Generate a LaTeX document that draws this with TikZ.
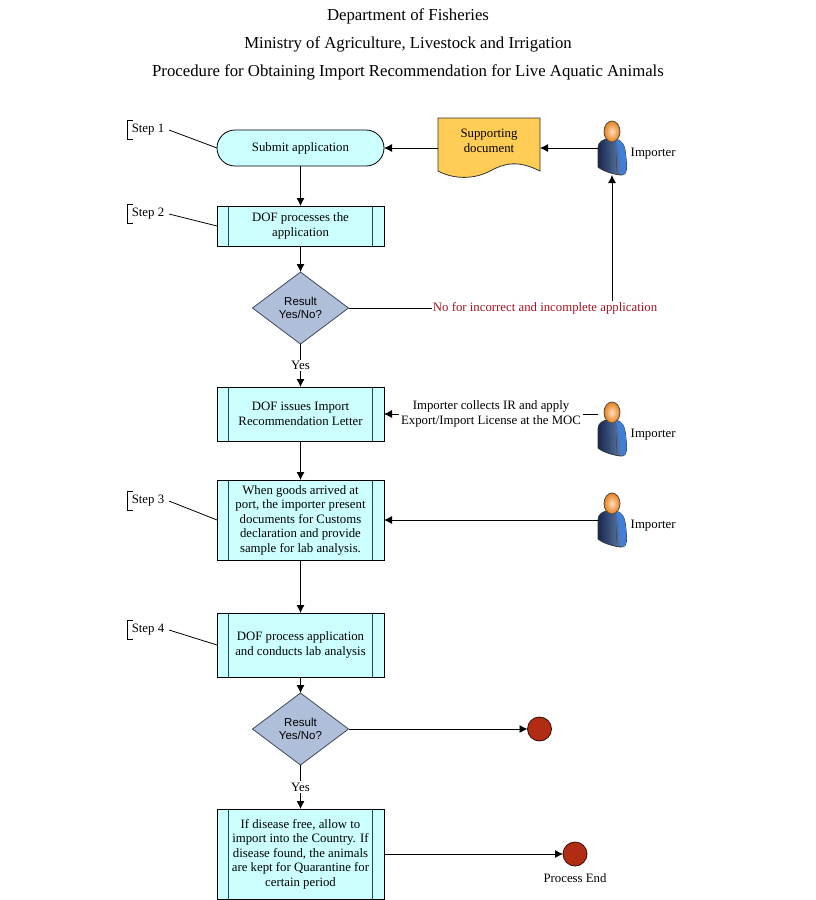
\documentclass[tikz,border=0pt]{standalone}
\usepackage{fontspec}
\setmainfont{Liberation Serif}
\setsansfont{Liberation Sans}
\usetikzlibrary{arrows.meta, positioning, shapes.geometric}
\definecolor{boxfill}{HTML}{CCFFFF}
\definecolor{boxline}{HTML}{23474D}
\definecolor{decfill}{HTML}{AFBFD9}
\definecolor{decline}{HTML}{3F4A5C}
\definecolor{docfill}{HTML}{FFCC55}
\definecolor{endfill}{HTML}{B22C14}
\definecolor{nored}{HTML}{A01420}
\definecolor{bodydark}{HTML}{16264F}
\definecolor{bodymid}{HTML}{6F93C4}
\definecolor{bodyarm}{HTML}{3F7FD8}

\begin{document}
\begin{tikzpicture}[
    x=1pt, y=-1pt, >={Latex[length=8pt,width=8pt]},
    line width=0.8pt,
    txt/.style={font=\fontsize{12.8}{14.5}\selectfont, align=center},
    titletxt/.style={font=\fontsize{16.75}{19}\selectfont},
    terminal/.style={draw, fill=boxfill, rounded corners=18pt, minimum width=167pt, minimum height=36pt, outer sep=0pt, txt},
    subproc/.style={draw, fill=boxfill, minimum width=167pt, minimum height=#1, outer sep=0pt, txt,
        path picture={
            \draw[boxline] ([xshift=11.5pt]path picture bounding box.north west) -- ([xshift=11.5pt]path picture bounding box.south west);
            \draw[boxline] ([xshift=-11.5pt]path picture bounding box.north east) -- ([xshift=-11.5pt]path picture bounding box.south east);
        }},
    decision/.style={diamond, draw=decline, fill=decfill, minimum width=96pt, minimum height=72pt, inner sep=0pt, outer sep=0pt, aspect=1.33, align=center, font=\sffamily\fontsize{11.5}{13.5}\selectfont},
    stepnote/.style={minimum width=42pt, minimum height=19pt, inner sep=0pt, outer sep=0pt, txt},
    actor/.style={minimum width=28pt, minimum height=54pt, inner sep=0pt, outer sep=0pt},
    endpoint/.style={circle, draw=black!70!endfill, fill=endfill, minimum size=24pt, inner sep=0pt, outer sep=0pt},
    person/.pic={
        \draw[draw=black!80, left color=bodydark, right color=bodymid]
            (-14,0) .. controls (-14,-6) and (-9,-9) .. (-3,-9) -- (3,-9)
            .. controls (10,-8) and (13,-4) .. (14,10) .. controls (15,20) and (15,27) .. (10,27)
            .. controls (5,27) and (-8,24) .. (-14,19) -- cycle;
        \fill[bodyarm] (3,-9) .. controls (10,-8) and (13,-4) .. (14,10)
            .. controls (15,20) and (15,27) .. (10,27) .. controls (7,20) and (8,0) .. (3,-9) -- cycle;
        \draw[black!75, line width=0.5pt] (-9,3) -- (-9,20) (-3,6) -- (-3,22) (4,6) -- (5,24);
        \draw[draw=black!70, inner color=orange!25!white, outer color=orange!60!brown] (0,-16.5) ellipse [x radius=8, y radius=10.5];
    },
    ]

    % title
    \node[titletxt] (title1) at (408,16) {Department of Fisheries};
    \node[titletxt] (title2) at (408,44) {Ministry of Agriculture, Livestock and Irrigation};
    \node[titletxt] (title3) at (408,72) {Procedure for Obtaining Import Recommendation for Live Aquatic Animals};
    \path[use as bounding box] (0,0) rectangle (816,900);

    % main column
    \node[terminal] (submit) at (300.5,148) {Submit application};
    \node[subproc=40pt, below=40pt of submit] (proc) {DOF processes the\\application};
    \node[decision, below=26pt of proc] (dec1) {Result\\Yes/No?};
    \node[subproc=54pt, below=43pt of dec1] (issue) {DOF issues Import\\Recommendation Letter};
    \node[subproc=80pt, below=39pt of issue] (port) {When goods arrived at\\port, the importer present\\documents for Customs\\declaration and provide\\sample for lab analysis.};
    \node[subproc=64pt, below=53pt of port] (lab) {DOF process application\\and conducts lab analysis};
    \node[decision, below=16pt of lab] (dec2) {Result\\Yes/No?};
    \node[subproc=90pt, below=44pt of dec2] (free) {If disease free, allow to\\import into the Country. If\\disease found, the animals\\are kept for Quarantine for\\certain period};

    % supporting document
    \node[minimum width=102pt, minimum height=60pt, inner sep=0pt, outer sep=0pt, right=54pt of submit] (doc) {};
    \draw[fill=docfill, draw=black!80] (doc.north west) -- (doc.north east) -- (540,171)
        .. controls (518,160) and (505,163) .. (490,171) .. controls (475,179) and (455,180) .. (438,171) -- cycle;
    \node[txt] (doctext) at ([yshift=7pt]doc) {Supporting\\document};

    % importers
    \node[actor] (imp1) at (612,148) {};
    \node[actor] (imp2) at ([yshift=-15pt]imp1 |- issue) {};
    \node[actor] (imp3) at (imp1 |- port) {};
    \foreach \n in {imp1, imp2, imp3} {
        \pic at (\n) {person};
        \node[txt, right=1pt of \n, yshift=-6pt] (\n text) {Importer};
    }

    % end points
    \node[endpoint, right=179pt of dec2] (end1) {};
    \node[endpoint, right=179pt of free] (end2) {};
    \node[txt, below=4pt of end2] (endtext) {Process End};

    % step notes
    \node[stepnote] (step1) at (148,130) {Step 1};
    \node[stepnote] (step2) at (148,214) {Step 2};
    \node[stepnote] (step3) at (148,501) {Step 3};
    \node[stepnote] (step4) at (148,630) {Step 4};
    \foreach \s/\t in {step1/submit, step2/proc, step3/port, step4/lab} {
        \draw ([xshift=6pt]\s.north west) -- (\s.north west) -- (\s.south west) -- ([xshift=6pt]\s.south west);
        \draw (\s.east) -- (\t.west);
    }

    % arrows
    \draw[->] (submit) -- (proc);
    \draw[->] (proc) -- (dec1);
    \draw[->] (dec1) -- node[fill=white, txt, inner sep=1.5pt] (yes1) {Yes} (issue);
    \draw[->] (issue) -- (port);
    \draw[->] (port) -- (lab);
    \draw[->] (lab) -- (dec2);
    \draw[->] (dec2) -- node[fill=white, txt, inner sep=1.5pt] (yes2) {Yes} (free);
    \draw[->] (doc) -- (submit);
    \draw[->] (imp1) -- (doc);
    \draw[->] (dec1.east) -| node[pos=0.373, fill=white, inner sep=1pt, txt, text=nored] (nolabel) {No for incorrect and incomplete application} (imp1.south);
    \draw[->] (imp2.west |- issue.east) -- node[fill=white, inner sep=2pt, txt] (collect) {Importer collects IR and apply\\Export/Import License at the MOC} (issue.east);
    \draw[->] (imp3) -- (port);
    \draw[->] (dec2) -- (end1);
    \draw[->] (free) -- (end2);
\end{tikzpicture}
\end{document}
